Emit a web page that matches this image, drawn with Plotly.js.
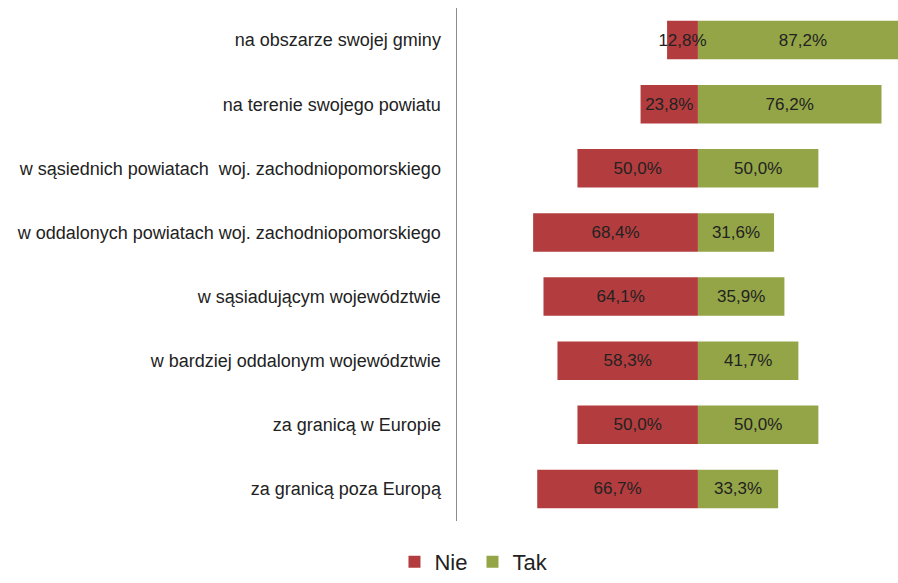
<!DOCTYPE html>
<html>
<head>
<meta charset="utf-8">
<script src="https://cdn.plot.ly/plotly-3.0.1.min.js"></script>
<style>html,body{margin:0;padding:0;background:#fff;overflow:hidden;}#chart{width:908px;height:583px;}</style>
</head>
<body>
<div id="chart"></div>
<script>
const categories = [
  "na obszarze swojej gminy",
  "na terenie swojego powiatu",
  "w sąsiednich powiatach  woj. zachodniopomorskiego",
  "w oddalonych powiatach woj. zachodniopomorskiego",
  "w sąsiadującym województwie",
  "w bardziej oddalonym województwie",
  "za granicą w Europie",
  "za granicą poza Europą"
];
const nieValues = [12.8, 23.8, 50.0, 68.4, 64.1, 58.3, 50.0, 66.7];
const takValues = [87.2, 76.2, 50.0, 31.6, 35.9, 41.7, 50.0, 33.3];
const seriesNames = ["Nie", "Tak"];

const fmt = v => v.toFixed(1).replace('.', ',') + '%';
const FONT = '"Liberation Sans", Arial, sans-serif';
const barFont = {family: FONT, size: 17, color: '#222'};

const traces = [
  {
    type: 'bar', orientation: 'h', name: seriesNames[1],
    y: categories, x: takValues,
    text: takValues.map(fmt), textposition: 'inside', insidetextanchor: 'middle',
    textangle: 0, constraintext: 'none', cliponaxis: false,
    textfont: barFont, insidetextfont: barFont,
    marker: {color: '#93A547'}, hoverinfo: 'none'
  },
  {
    type: 'bar', orientation: 'h', name: seriesNames[0],
    y: categories, x: nieValues.map(v => -v),
    text: nieValues.map(fmt), textposition: 'inside', insidetextanchor: 'middle',
    textangle: 0, constraintext: 'none', cliponaxis: false,
    textfont: barFont, insidetextfont: barFont,
    marker: {color: '#B33C3E'}, hoverinfo: 'none'
  }
];

const layout = {
  width: 908, height: 583,
  margin: {l: 457, r: 0, t: 8, b: 62},
  paper_bgcolor: '#fff', plot_bgcolor: '#fff',
  barmode: 'relative', bargap: 0.4,
  font: {family: FONT, color: '#222'},
  xaxis: {range: [-100, 87.2], showticklabels: false, showgrid: false, zeroline: false, showline: false, fixedrange: true},
  yaxis: {autorange: 'reversed', showline: true, linecolor: '#8c8c8c', linewidth: 1.5,
          showgrid: false, ticks: '', ticklabelstandoff: 11, automargin: false,
          tickfont: {family: FONT, size: 18, color: '#222'}},
  showlegend: true,
  legend: {orientation: 'h', xref: 'container', yref: 'container', x: 0.522, xanchor: 'center', y: 0.0, yanchor: 'bottom',
           font: {family: FONT, size: 22, color: '#222'}, traceorder: 'reversed', itemwidth: 30}
};

Plotly.newPlot('chart', traces, layout, {displayModeBar: false, staticPlot: true});
</script>
</body>
</html>
